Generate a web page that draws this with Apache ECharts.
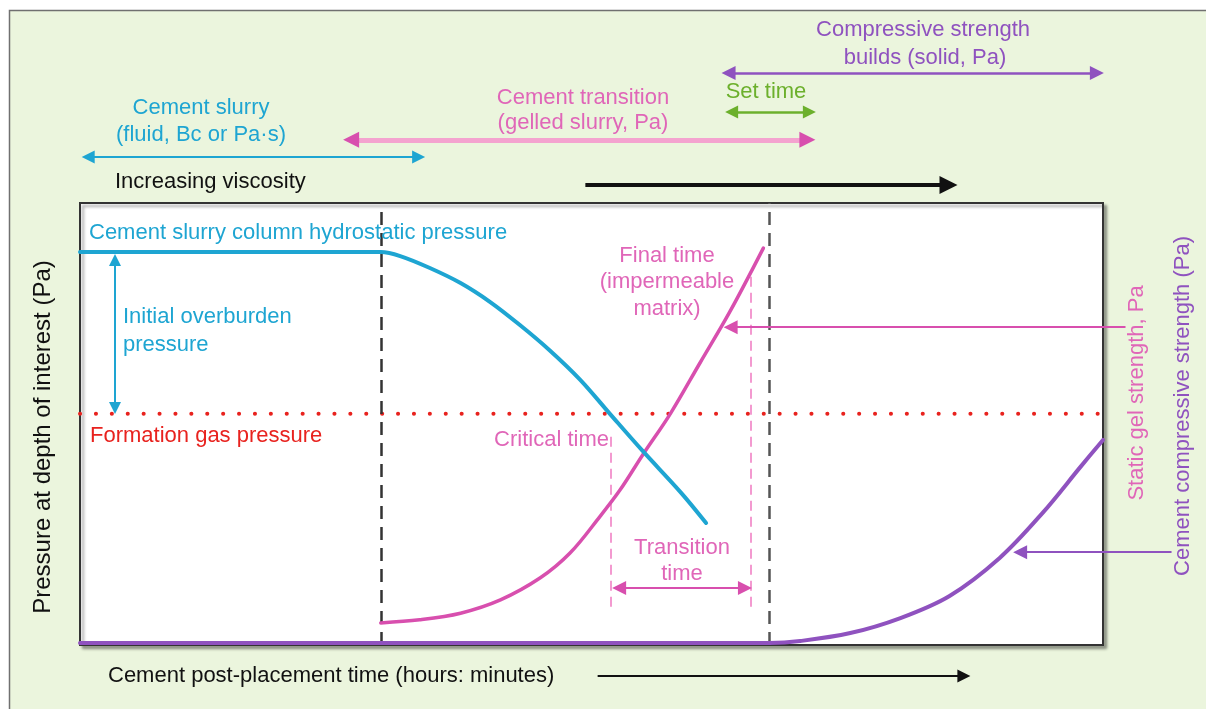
<!DOCTYPE html>
<html>
<head>
<meta charset="utf-8">
<script src="https://cdn.jsdelivr.net/npm/echarts@6/dist/echarts.min.js"></script>
<style>
  html, body { margin: 0; padding: 0; background: #fff; }
  #chart { width: 1206px; height: 709px; }
</style>
</head>
<body>
<div id="chart"></div>
<script>
// relative units: time 0..100 across the box, pressure / strength 0..100 up the box
const hydrostatic = [[0, 88.9], [29.4, 88.9], [31.3, 88.0], [34.2, 85.3], [37.2, 81.9], [40.1, 77.6],
  [43.0, 72.4], [45.9, 66.7], [48.9, 60.0], [51.8, 52.3], [55.0, 43.9], [58.7, 34.6], [61.2, 27.6]];
const gelStrength = [[29.4, 5.0], [33.2, 5.7], [37.2, 7.2], [41.1, 10.2], [45.0, 15.2], [47.9, 20.8],
  [50.8, 29.0], [52.8, 35.1], [55.0, 43.0], [57.7, 52.3], [60.6, 63.8], [63.5, 75.3], [66.8, 89.8]];
const compressive = [[0, 0.45], [67.4, 0.45], [70.4, 0.9], [75.3, 2.7], [80.2, 6.1], [85.0, 11.1],
  [89.9, 19.7], [94.1, 29.9], [97.8, 40.3], [100, 46.4]];
const gasPressure = 52.3;

// phase spans (time) shown above the box
const slurryPhase = [0.8, 33.1];
const transitionPhase = [26.5, 71.1];
const setTimePhase = [63.7, 71.3];
const strengthPhase = [63.4, 99.4];
const viscosityArrow = [49.4, 84.9];
const timeArrow = [50.6, 86.4];

// marked times inside the box
const placementLines = [29.4, 67.4];
const criticalTime = 51.9;
const finalTime = 65.6;
const transitionArrow = [52.7, 65.0];
const overburdenArrow = [87.1, 53.6];
const gelPointer = [102.2, 63.6];
const strengthPointer = [106.7, 91.9];

const BOX = {left: 80, top: 203, right: 1103, bottom: 645};
const W = 1206, H = 709;
const sx = (BOX.right - BOX.left) / 100;
const sy = (BOX.bottom - BOX.top) / 100;

const BLUE = '#1ea5d2', PINK = '#d84fae', PINK_TXT = '#e066b8', PINK_LIGHT = '#f4a3cf';
const RED = '#e8221e', GREEN = '#6cb02c', PURPLE = '#8f52bf';
const FONT = 'Liberation Sans, Arial, sans-serif';

function seg(x1, y1, x2, y2) {
  return [{coord: [x1, y1]}, {coord: [x2, y2]}];
}

function marks(lineStyle, segs, symbol, size, z) {
  return {
    type: 'line', data: [], z: z || 4, silent: true,
    markLine: {
      silent: true, animation: false,
      symbol: symbol || 'none', symbolSize: size || 0,
      label: {show: false}, emphasis: {disabled: true},
      lineStyle: Object.assign({opacity: 1, type: 'solid'}, lineStyle),
      data: segs
    }
  };
}

function curve(data, color, width) {
  return {
    type: 'line', data, z: 5, smooth: 0.35, showSymbol: false, silent: true,
    lineStyle: {color, width, cap: 'round'}
  };
}

function label(text, x, y, color, align, rotation, size) {
  return {
    type: 'text', x, y, rotation: rotation || 0, silent: true, z: 20,
    style: {
      text, fill: color, font: (size || 22) + 'px ' + FONT,
      textAlign: align || 'center', textVerticalAlign: 'middle',
      align: align || 'center', verticalAlign: 'middle'
    }
  };
}

const chart = echarts.init(document.getElementById('chart'));

const option = {
  animation: false,
  backgroundColor: '#ebf5dd',
  grid: {left: 0, top: 0, right: 0, bottom: 0},
  xAxis: {type: 'value', show: false, min: -BOX.left / sx, max: (W - BOX.left) / sx},
  yAxis: {type: 'value', show: false, min: -(H - BOX.bottom) / sy, max: BOX.bottom / sy},
  graphic: [
    {type: 'rect', shape: {x: 0, y: 0, width: W, height: 10}, style: {fill: '#fff'}, silent: true},
    {type: 'rect', shape: {x: 0, y: 0, width: 9, height: H}, style: {fill: '#fff'}, silent: true},
    {type: 'polyline', shape: {points: [[9.5, H], [9.5, 10.5], [W, 10.5]]},
      style: {stroke: '#707070', lineWidth: 1.5, fill: null}, silent: true},
    label('Cement slurry', 201, 108, BLUE),
    label('(fluid, Bc or Pa·s)', 201, 135, BLUE),
    label('Increasing viscosity', 115, 182, '#111', 'left'),
    label('Cement transition', 583, 98, PINK_TXT),
    label('(gelled slurry, Pa)', 583, 123, PINK_TXT),
    label('Set time', 766, 92, GREEN),
    label('Compressive strength', 923, 30, PURPLE),
    label('builds (solid, Pa)', 925, 58, PURPLE),
    label('Cement slurry column hydrostatic pressure', 89, 233, BLUE, 'left'),
    label('Initial overburden', 123, 317, BLUE, 'left'),
    label('pressure', 123, 345, BLUE, 'left'),
    label('Formation gas pressure', 90, 436, RED, 'left'),
    label('Critical time', 609, 440, PINK_TXT, 'right'),
    label('Final time', 667, 256, PINK_TXT),
    label('(impermeable', 667, 282, PINK_TXT),
    label('matrix)', 667, 309, PINK_TXT),
    label('Transition', 682, 548, PINK_TXT),
    label('time', 682, 574, PINK_TXT),
    label('Static gel strength, Pa', 1137, 393, PINK_TXT, 'center', Math.PI / 2),
    label('Cement compressive strength (Pa)', 1183, 406, PURPLE, 'center', Math.PI / 2),
    label('Pressure at depth of interest (Pa)', 43, 437, '#111', 'center', Math.PI / 2, 24),
    label('Cement post-placement time (hours: minutes)', 108, 676, '#111', 'left')
  ],
  series: [
    // plot box
    {
      type: 'line', data: [], z: 1, silent: true,
      markArea: {
        silent: true,
        itemStyle: {
          color: '#fff', borderColor: '#333', borderWidth: 2,
          shadowColor: 'rgba(0,0,0,0.35)', shadowBlur: 3, shadowOffsetX: 3, shadowOffsetY: 3
        },
        data: [[{coord: [0, 0]}, {coord: [100, 100]}]]
      }
    },
    // dashed placement / set lines
    marks({color: '#333', width: 2.5, type: [13, 8]},
      [seg(placementLines[0], 0, placementLines[0], 100)], 'none', 0, 2),
    marks({color: '#555', width: 2.5, type: [13, 8]},
      [seg(placementLines[1], 0, placementLines[1], 100)], 'none', 0, 2),
    marks({color: '#f39ad0', width: 2, type: [10, 6]},
      [seg(criticalTime, 47.1, criticalTime, 8.6), seg(finalTime, 83.3, finalTime, 8.6)], 'none', 0, 2),
    // formation gas pressure
    {
      type: 'line', data: [[0, gasPressure], [100, gasPressure]], z: 3, showSymbol: false, silent: true,
      lineStyle: {color: RED, width: 4, type: [0.1, 15.8], cap: 'round'}
    },
    curve(compressive, PURPLE, 4),
    curve(gelStrength, PINK, 3.5),
    curve(hydrostatic, BLUE, 4),
    // phase arrows above the box
    marks({color: BLUE, width: 2}, [seg(slurryPhase[0], 110.4, slurryPhase[1], 110.4)], 'triangle', 13),
    marks({color: PINK_LIGHT, width: 5}, [seg(transitionPhase[0], 114.3, transitionPhase[1], 114.3)]),
    marks({color: PINK, width: 0},
      [seg(transitionPhase[0] + 0.3, 114.3, transitionPhase[0], 114.3),
       seg(transitionPhase[1] - 0.3, 114.3, transitionPhase[1], 114.3)], ['none', 'triangle'], 16),
    marks({color: GREEN, width: 2.5}, [seg(setTimePhase[0], 120.6, setTimePhase[1], 120.6)], 'triangle', 13),
    marks({color: PURPLE, width: 2.5}, [seg(strengthPhase[0], 129.4, strengthPhase[1], 129.4)], 'triangle', 14),
    marks({color: '#111', width: 4}, [seg(viscosityArrow[0], 104.1, viscosityArrow[1], 104.1)], ['none', 'triangle'], 18),
    marks({color: '#111', width: 2}, [seg(timeArrow[0], -7.0, timeArrow[1], -7.0)], ['none', 'triangle'], 13),
    // arrows inside / beside the box
    marks({color: BLUE, width: 2}, [seg(3.42, overburdenArrow[0], 3.42, overburdenArrow[1])], 'triangle', 12),
    marks({color: PINK, width: 2}, [seg(gelPointer[0], 71.9, gelPointer[1], 71.9)], ['none', 'triangle'], 14),
    marks({color: PURPLE, width: 2}, [seg(strengthPointer[0], 21.0, strengthPointer[1], 21.0)], ['none', 'triangle'], 14),
    marks({color: PINK, width: 2}, [seg(transitionArrow[0], 12.9, transitionArrow[1], 12.9)], 'triangle', 14)
  ]
};

chart.setOption(option);
</script>
</body>
</html>
